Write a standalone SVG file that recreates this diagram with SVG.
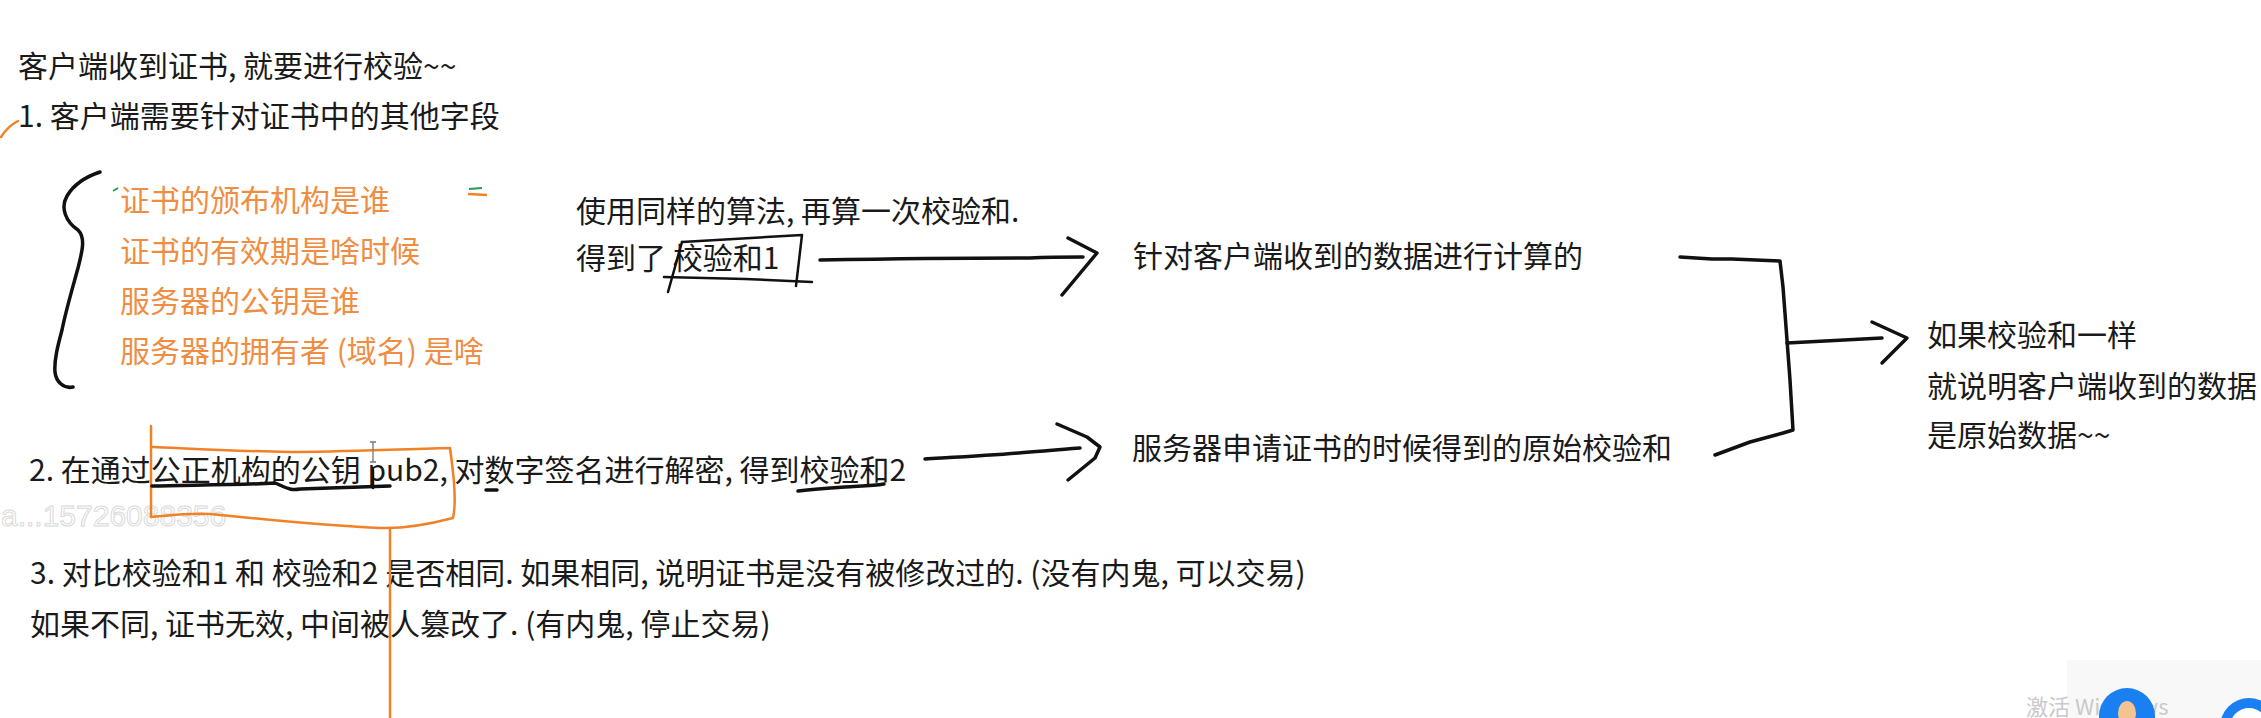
<svg xmlns="http://www.w3.org/2000/svg" width="2261" height="718" viewBox="0 0 2261 718">
<style>
  .t { font-family: "Noto Sans CJK SC", "Noto Sans", sans-serif; font-size: 30px; fill: #1a1a1a; }
  .o { font-family: "Noto Sans CJK SC", "Noto Sans", sans-serif; font-size: 30px; fill: #ef8d42; }
  .ink { fill: none; stroke: #111; stroke-width: 3.5; stroke-linecap: round; stroke-linejoin: round; }
  .inkthin { fill: none; stroke: #111; stroke-width: 2.5; stroke-linecap: round; stroke-linejoin: round; }
  .orange { fill: none; stroke: #f08124; stroke-width: 2.5; stroke-linecap: round; stroke-linejoin: round; }
  .wm { font-family: "Liberation Sans", "Noto Sans", sans-serif; font-size: 30px; fill: #ffffff; stroke: #d9d9d9; stroke-width: 1; }
</style>
<rect x="0" y="0" width="2261" height="718" fill="#ffffff"/>

<!-- watermark -->
<text class="wm" x="1" y="526">a...15726088356</text>

<g id="title"><text class="t" x="18" y="77">客户端收到证书, 就要进行校验~~</text></g>
<g id="step1"><text class="t" x="18" y="127">1. 客户端需要针对证书中的其他字段</text></g>

<g id="fields">
  <text class="o" x="120" y="211">证书的颁布机构是谁</text>
  <text class="o" x="120" y="262">证书的有效期是啥时候</text>
  <text class="o" x="120" y="312">服务器的公钥是谁</text>
  <text class="o" x="120" y="362">服务器的拥有者 (域名) 是啥</text>
</g>

<g id="calc">
  <text class="t" x="576" y="222">使用同样的算法, 再算一次校验和.</text>
  <text class="t" x="576" y="269">得到了 校验和1</text>
</g>

<g id="client-data"><text class="t" x="1133" y="267">针对客户端收到的数据进行计算的</text></g>
<g id="server-orig"><text class="t" x="1132" y="459">服务器申请证书的时候得到的原始校验和</text></g>

<g id="result">
  <text class="t" x="1927" y="346">如果校验和一样</text>
  <text class="t" x="1927" y="397">就说明客户端收到的数据</text>
  <text class="t" x="1927" y="446">是原始数据~~</text>
</g>

<g id="step2"><text class="t" x="29" y="481">2. 在通过公正机构的公钥 pub2, 对数字签名进行解密, 得到校验和2</text></g>
<g id="step3">
  <text class="t" x="30" y="584">3. 对比校验和1 和 校验和2 是否相同. 如果相同, 说明证书是没有被修改过的. (没有内鬼, 可以交易)</text>
  <text class="t" x="30" y="635">如果不同, 证书无效, 中间被人篡改了. (有内鬼, 停止交易)</text>
</g>

<!-- annotations -->
<g id="annotations">
  <path class="orange" d="M1,137 Q8,126 18,121"/>
  <path class="ink" d="M100,172 C88,176 74,184 67,196 C60,208 66,222 78,230 C86,238 82,252 78,268 C72,290 66,310 62,330 C58,345 54,360 55,372 C56,382 64,389 73,387"/>
  <path d="M113,191 L118,188" stroke="#2a9a4a" stroke-width="2" fill="none"/>
  <path d="M469,189 L482,188" stroke="#2a9a4a" stroke-width="2" fill="none"/>
  <path d="M468,194 L487,195" stroke="#f08124" stroke-width="2.5" fill="none"/>
  <!-- box around 校验和1 -->
  <path class="inkthin" d="M682,242 L802,235 L796,286"/>
  <path class="inkthin" d="M682,242 L668,292"/>
  <path class="inkthin" d="M664,277 L745,279 L812,282"/>
  <!-- orange box around key -->
  <path class="orange" d="M151,426 L151,517"/>
  <path class="orange" d="M153,447 C180,448 230,451 290,452 C340,452 400,449 450,448 C453,470 457,500 453,518 C430,524 405,529 380,528 C330,526 270,520 210,514 C185,513 165,516 151,517"/>
  <path class="orange" d="M390,528 L390,718"/>
  <!-- underlines -->
  <path class="ink" d="M152,486 C190,485 240,485 275,483 C285,487 290,491 300,489 C330,488 360,487 390,486"/>
  <path class="inkthin" d="M373,470 L373,488"/>
  <path class="ink" d="M486,490 L497,490"/>
  <path class="ink" d="M798,491 C815,489 830,488 845,487 C860,486 872,486 884,484"/>
  <!-- cursor -->
  <path d="M370,442 L376,442 M373,442 L373,462 M370,462 L376,462" stroke="#777" stroke-width="1.3" fill="none"/>
</g>

<!-- connectors -->
<g id="connectors">
  <path class="ink" d="M820,260 C880,259 960,258 1030,258 C1050,257 1070,257 1083,257"/>
  <path class="ink" d="M1068,238 L1097,253 L1062,295"/>
  <path class="ink" d="M925,459 C960,457 1000,455 1030,452 C1050,451 1065,449 1080,448"/>
  <path class="ink" d="M1057,424 L1087,437 L1100,447 L1095,458 L1068,480"/>
  <path class="ink" d="M1680,257 L1712,259 L1732,259 L1780,261 L1783,287 L1787,340 L1790,380 L1793,430 L1783,433 L1750,442 L1715,455"/>
  <path class="ink" d="M1787,343 L1882,338"/>
  <path class="ink" d="M1872,322 L1907,338 L1882,363"/>
</g>

<!-- bottom-right screen overlay -->
<g id="overlay">
  <rect x="2067" y="660" width="194" height="58" fill="#f8f8f8"/>
  <text x="2026" y="715" font-family="Noto Sans CJK SC, Noto Sans, sans-serif" font-size="22" fill="#c9c9c9">激活 Windows</text>
  <circle cx="2127" cy="716" r="28" fill="#1a7ff0"/>
  <ellipse cx="2127" cy="713" rx="9" ry="12" fill="#f3c48f"/>
  <circle cx="2249" cy="727" r="29" fill="#1a7ff0"/>
  <circle cx="2249" cy="727" r="19" fill="#ffffff"/>
  <rect x="2238" y="720" width="23" height="8" fill="#1a7ff0"/>
</g>
</svg>
